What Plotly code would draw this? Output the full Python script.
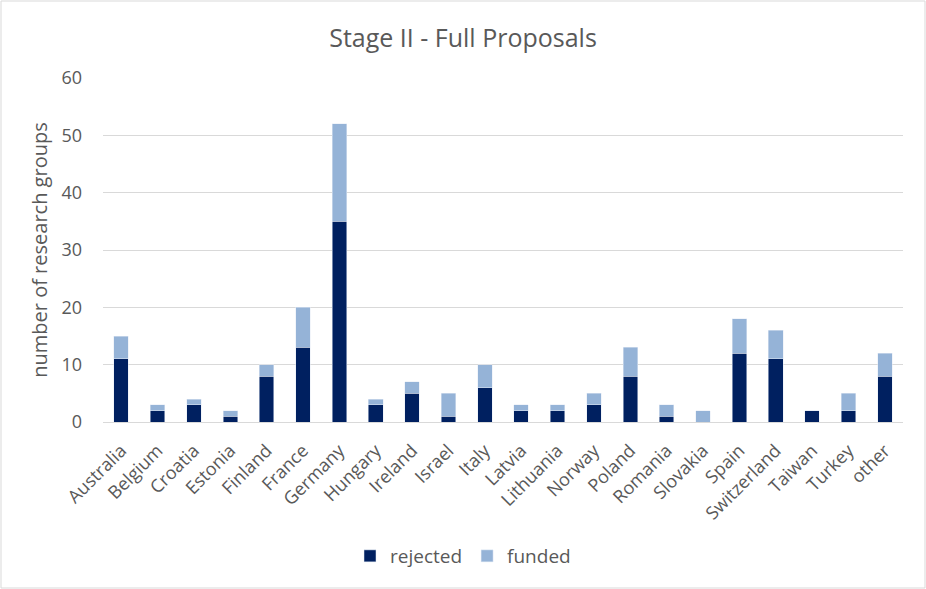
import plotly.graph_objects as go

# data
countries = ['Australia', 'Belgium', 'Croatia', 'Estonia', 'Finland', 'France', 'Germany',
             'Hungary', 'Ireland', 'Israel', 'Italy', 'Latvia', 'Lithuania', 'Norway',
             'Poland', 'Romania', 'Slovakia', 'Spain', 'Switzerland', 'Taiwan', 'Turkey', 'other']
rejected = [11, 2, 3, 1, 8, 13, 35, 3, 5, 1, 6, 2, 2, 3, 8, 1, 0, 12, 11, 2, 2, 8]
funded = [4, 1, 1, 1, 2, 7, 17, 1, 2, 4, 4, 1, 1, 2, 5, 2, 2, 6, 5, 0, 3, 4]

W, H = 926, 589
L, R, T, B = 103, 23, 78, 167
pw, ph = W - L - R, H - T - B

font = "Open Sans"
grey = '#595959'

fig = go.Figure()
fig.add_trace(go.Bar(x=countries, y=rejected, name='rejected', marker_color='#002060'))
fig.add_trace(go.Bar(x=countries, y=funded, name='funded', marker_color='#95B3D7'))

fig.update_layout(
    width=W, height=H,
    barmode='stack', bargap=0.6,
    margin=dict(l=L, r=R, t=T, b=B),
    paper_bgcolor='white', plot_bgcolor='white',
    font=dict(family=font, color=grey, size=15),
    title=dict(text='Stage II - Full Proposals', x=0.5, xanchor='center',
               y=1 - 38 / H, yanchor='middle', font=dict(size=25, color=grey)),
    legend=dict(orientation='h', x=(W / 2 - L) / pw, xanchor='center', y=(ph - (556 - T)) / ph,
                yanchor='middle', font=dict(size=19, color=grey), traceorder='normal'),
    showlegend=True,
)
fig.update_xaxes(tickangle=-45, showgrid=False, showline=True, linecolor='#D9D9D9',
                 linewidth=1, ticks='', ticklabelstandoff=10, tickfont=dict(size=18, color=grey))
fig.update_yaxes(range=[0, 60], dtick=10, showgrid=True, gridcolor='#D9D9D9', zeroline=False,
                 showline=False, ticks='', ticklen=0, ticklabelstandoff=20,
                 tickfont=dict(size=18, color=grey),
                 title=dict(text='number of research groups', font=dict(size=20, color=grey),
                            standoff=8))

# chart border
fig.add_shape(type='rect', xref='paper', yref='paper',
              x0=-(L - 1) / pw, x1=1 + (R - 1) / pw, y0=-(B - 1) / ph, y1=1 + (T - 1) / ph,
              line=dict(color='#D9D9D9', width=1))

fig.write_html("out.html", config={'displayModeBar': False},
               post_script="document.body.style.margin='0';document.body.style.overflow='hidden';")
